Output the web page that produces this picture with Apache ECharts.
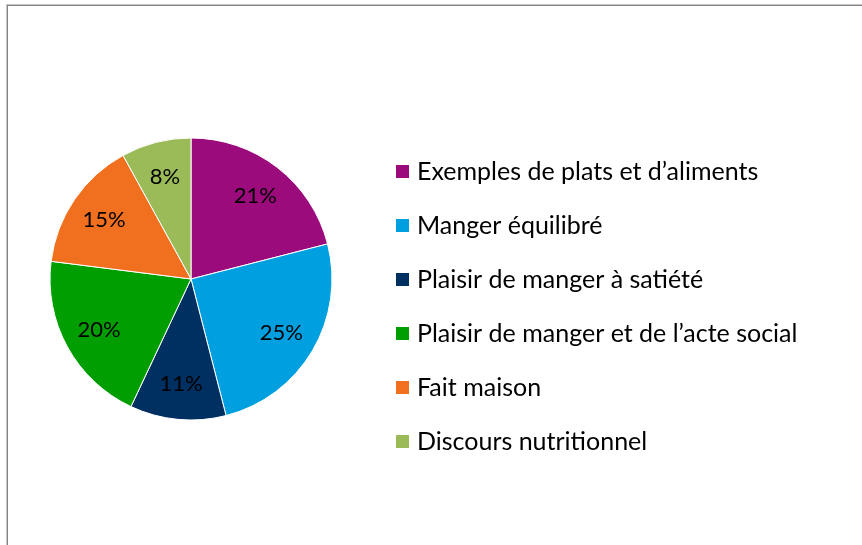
<!DOCTYPE html>
<html>
<head>
<meta charset="utf-8">
<script src="https://cdn.jsdelivr.net/npm/echarts@6/dist/echarts.min.js"></script>
<style>
  html, body { margin: 0; padding: 0; background: #fff; overflow: hidden; }
  #frame {
    position: absolute; left: 6px; top: 4px; width: 900px; height: 600px;
    border-left: 1px solid #c4c4c4; border-top: 1px solid #c4c4c4;
  }
  #frame::before {
    content: ''; position: absolute; left: 0; top: 0; right: 0; bottom: 0;
    border-left: 1px solid #858585; border-top: 1px solid #858585;
  }
  #chart { position: absolute; left: 0; top: 0; width: 862px; height: 545px; }
</style>
</head>
<body>
<div id="frame"></div>
<div id="chart"></div>
<script>
// catégories et parts (en %)
const categories = [
  'Exemples de plats et d\u2019aliments',
  'Manger équilibré',
  'Plaisir de manger à satiété',
  'Plaisir de manger et de l\u2019acte social',
  'Fait maison',
  'Discours nutritionnel'
];
const values = [21, 25, 11, 20, 15, 8];
const colors = ['#9c0b7b', '#00a0e0', '#003062', '#009e00', '#f07020', '#9bbb59'];

const font = 'Lato, "Open Sans", sans-serif';
const pieData = categories.map((name, i) => ({name: name, value: values[i]}));

const chart = echarts.init(document.getElementById('chart'));
chart.setOption({
  animation: false,
  color: colors,
  legend: {
    orient: 'vertical',
    left: 394,
    top: 159,
    padding: 0,
    icon: 'rect',
    itemWidth: 15,
    itemHeight: 15,
    itemGap: 29,
    selectedMode: false,
    data: categories,
    textStyle: {fontFamily: font, fontSize: 25, color: '#000', padding: [0, 0, 0, 2]}
  },
  series: [
    {
      // secteurs
      type: 'pie',
      center: [191, 279],
      radius: [0, 141],
      startAngle: 90,
      clockwise: true,
      silent: true,
      label: {show: false},
      labelLine: {show: false},
      itemStyle: {borderColor: '#fff', borderWidth: 1},
      data: pieData
    },
    {
      // étiquettes des pourcentages
      type: 'pie',
      center: [191, 279],
      radius: [63, 141],
      startAngle: 90,
      clockwise: true,
      silent: true,
      itemStyle: {color: 'transparent'},
      label: {
        show: true,
        position: 'inside',
        formatter: '{c}%',
        fontFamily: font,
        fontSize: 22,
        color: '#000'
      },
      labelLine: {show: false},
      data: pieData
    }
  ]
});
</script>
</body>
</html>
